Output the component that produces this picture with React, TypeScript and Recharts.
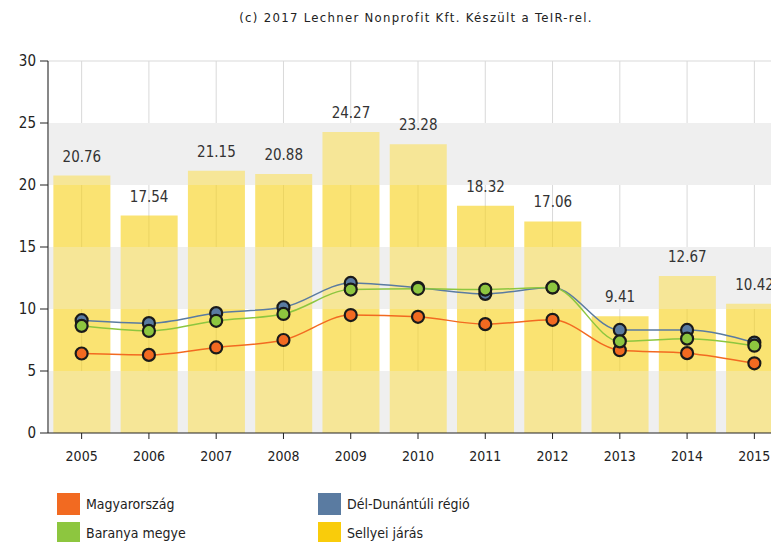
import React from 'react';
import {
  ComposedChart,
  Bar,
  Line,
  XAxis,
  YAxis,
  CartesianGrid,
  ReferenceArea,
  ReferenceLine,
  LabelList,
} from 'recharts';

// évek
const years = ['2005', '2006', '2007', '2008', '2009', '2010', '2011', '2012', '2013', '2014', '2015'];

// Sellyei járás (oszlop)
const sellyei = [20.76, 17.54, 21.15, 20.88, 24.27, 23.28, 18.32, 17.06, 9.41, 12.67, 10.42];
// vonalak
const magyarorszag = [6.41, 6.3, 6.9, 7.5, 9.51, 9.37, 8.78, 9.13, 6.68, 6.44, 5.62];
const delDunantul = [9.1, 8.86, 9.67, 10.14, 12.1, 11.71, 11.22, 11.74, 8.31, 8.31, 7.29];
const baranya = [8.64, 8.23, 9.05, 9.6, 11.57, 11.63, 11.57, 11.74, 7.39, 7.61, 7.04];

const yTicks = [0, 5, 10, 15, 20, 25, 30];
// szürke sávok
const bands = [
  [0, 5],
  [10, 15],
  [20, 25],
];

const legendItems = [
  { name: 'Magyarország', color: '#f26a21' },
  { name: 'Dél-Dunántúli régió', color: '#5a7ba1' },
  { name: 'Baranya megye', color: '#8dc63f' },
  { name: 'Sellyei járás', color: '#f9cc0b' },
];

const data = years.map((year, i) => ({
  year,
  sellyei: sellyei[i],
  magyarorszag: magyarorszag[i],
  delDunantul: delDunantul[i],
  baranya: baranya[i],
}));

const FONT = '"DejaVu Sans Condensed", "DejaVu Sans", sans-serif';

const dot = (color: string) => ({ r: 6, fill: color, stroke: '#1a1a1a', strokeWidth: 2.2 });

export default function App() {
  return (
    <div style={{ position: 'relative', width: 771, height: 534, overflow: 'hidden', fontFamily: FONT }}>
      <div
        style={{
          position: 'absolute',
          top: 2,
          left: 408,
          transform: 'translateX(-50%)',
          whiteSpace: 'nowrap',
          fontSize: 13,
          letterSpacing: 1.3,
          color: '#222',
        }}
      >
        (c) 2017 Lechner Nonprofit Kft. Készült a TeIR-rel.
      </div>
      <ComposedChart
        width={800}
        height={460}
        data={data}
        margin={{ top: 53, right: 20, bottom: 5, left: 0 }}
        barCategoryGap="8%"
      >
        {/* szürke sáv a háttérben */}
        {bands.map(([a, b]) => (
          <ReferenceArea key={'bg' + a} y1={a} y2={b} fill="#e9e9e9" fillOpacity={1} stroke="none" />
        ))}
        <CartesianGrid horizontal={false} stroke="#d9d9d9" />
        <ReferenceLine y={30} stroke="#d9d9d9" />
        <XAxis
          dataKey="year"
          axisLine={{ stroke: '#222' }}
          tickLine={{ stroke: '#222' }}
          tickSize={6}
          tickMargin={12}
          height={30}
          tick={{ fontSize: 14, fill: '#222', fontFamily: FONT }}
        />
        <YAxis
          domain={[0, 30]}
          ticks={yTicks}
          width={40}
          axisLine={{ stroke: '#222' }}
          tickLine={{ stroke: '#222' }}
          tickSize={8}
          tickMargin={4}
          tick={{ fontSize: 15, fill: '#222', fontFamily: FONT }}
        />
        <Bar dataKey="sellyei" fill="#f7d21c" fillOpacity={0.62} isAnimationActive={false}>
          <LabelList
            dataKey="sellyei"
            position="top"
            offset={14}
            style={{ fontSize: 15, fill: '#333', fontFamily: FONT }}
          />
        </Bar>
        {/* világosító réteg az oszlopok fölött */}
        {bands.map(([a, b]) => (
          <ReferenceArea
            key={'fg' + a}
            y1={a}
            y2={b}
            fill="#ffffff"
            fillOpacity={0.3}
            stroke="none"
            zIndex={350}
          />
        ))}
        <Line
          type="monotone"
          dataKey="magyarorszag"
          stroke="#f26a21"
          strokeWidth={1.5}
          dot={dot('#f26a21')}
          isAnimationActive={false}
        />
        <Line
          type="monotone"
          dataKey="delDunantul"
          stroke="#5a7ba1"
          strokeWidth={1.5}
          dot={dot('#5a7ba1')}
          isAnimationActive={false}
        />
        <Line
          type="monotone"
          dataKey="baranya"
          stroke="#8dc63f"
          strokeWidth={1.5}
          dot={dot('#8dc63f')}
          isAnimationActive={false}
        />
      </ComposedChart>
      <div
        style={{
          position: 'absolute',
          top: 485,
          left: 49,
          display: 'grid',
          gridTemplateColumns: '261px 220px',
          rowGap: 7,
          fontSize: 14,
          color: '#222',
        }}
      >
        {legendItems.map((item) => (
          <div key={item.name} style={{ display: 'flex', alignItems: 'center', height: 22 }}>
            <span style={{ width: 23, height: 22, background: item.color, marginRight: 6, flexShrink: 0 }} />
            {item.name}
          </div>
        ))}
      </div>
    </div>
  );
}
